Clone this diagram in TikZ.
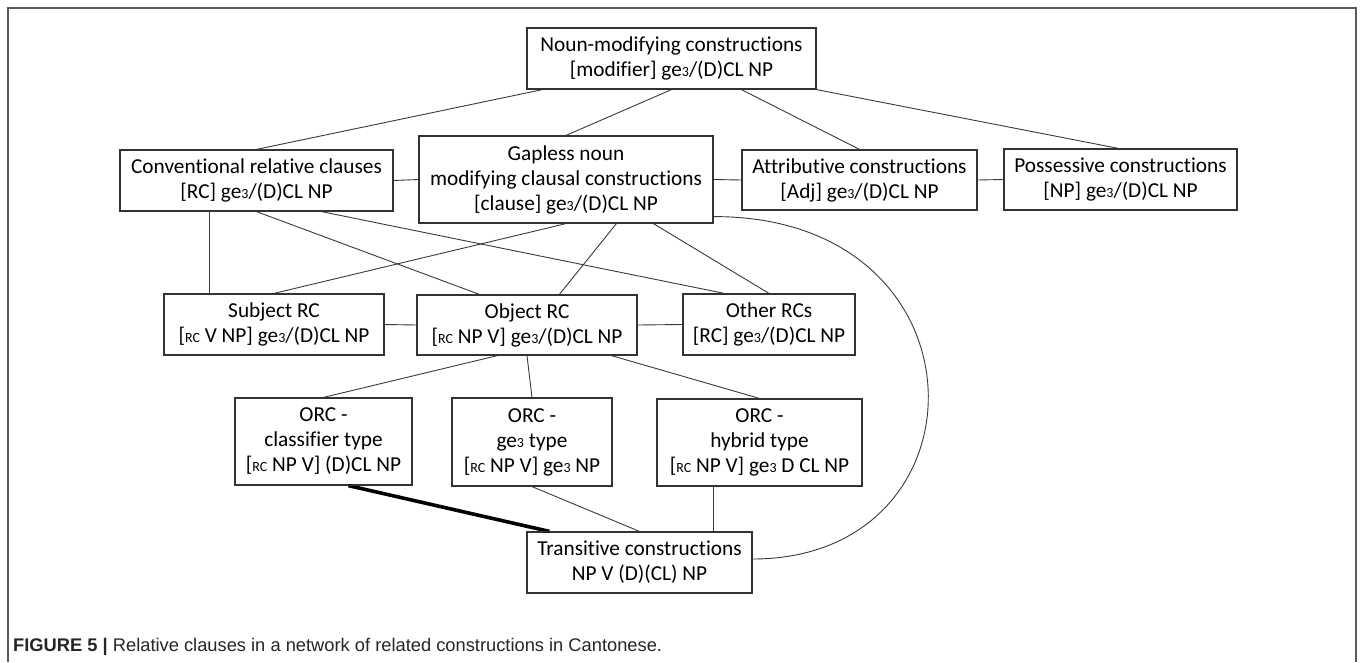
\documentclass[tikz,border=0pt]{standalone}
\usepackage{fontspec}
\setmainfont{Carlito}[Ligatures={NoCommon}]
\newfontfamily\capfont{Liberation Sans}
\usetikzlibrary{calc}
\newcommand{\myge}{ge{\fontsize{14}{14}\selectfont 3}}
\newcommand{\myrc}{{\fontsize{14}{14}\selectfont RC}}
\definecolor{boxc}{HTML}{333333}
\definecolor{linec}{HTML}{3A3A3A}
\definecolor{framec}{HTML}{5A5A5A}
\begin{document}
\begin{tikzpicture}[x=1pt,y=-1pt,
  box/.style={draw=boxc, line width=1.2pt, inner sep=0pt, align=center,
    font=\fontsize{21.3}{25}\selectfont, fill=white},
  link/.style={draw=linec, line width=0.9pt},
  strong/.style={draw=black, line width=3.6pt},
  framel/.style={draw=framec, line width=2pt}]
\useasboundingbox (0,0) rectangle (1360,662);
\fill[white] (0,0) rectangle (1360,662);
\coordinate (f1) at (7.5,662);
\coordinate (f2) at (7.5,8);
\coordinate (f3) at (1356,8);
\coordinate (f4) at (1356,662);
\draw[framel] (f1) -- (f2) -- (f3) -- (f4);

% nodes
\node[box, minimum width=289pt, minimum height=61pt] (top) at (671.5,58.5)
  {Noun-modifying constructions\\ {[}modifier] \myge/(D)CL NP};
\node[box, minimum width=273pt, minimum height=61pt] (conv) at (256.5,180.5)
  {Conventional relative clauses\\ {[}RC] \myge/(D)CL NP};
\node[box, minimum width=294pt, minimum height=87pt] (gap) at (566,179.5)
  {Gapless noun\\ modifying clausal constructions\\ {[}clause] \myge/(D)CL NP};
\node[box, minimum width=235pt, minimum height=60pt] (attr) at (859.5,180)
  {Attributive constructions\\ {[}Adj] \myge/(D)CL NP};
\node[box, minimum width=233pt, minimum height=61pt] (poss) at (1120.5,179.5)
  {Possessive constructions\\ {[}NP] \myge/(D)CL NP};
\node[box, minimum width=220pt, minimum height=61pt] (subj) at (274,324.5)
  {Subject RC\\ {[}\myrc{} V NP] \myge/(D)CL NP};
\node[box, minimum width=220pt, minimum height=60pt] (obj) at (527,325)
  {Object RC\\ {[}\myrc{} NP V] \myge/(D)CL NP};
\node[box, minimum width=172pt, minimum height=61pt] (other) at (769,324.5)
  {Other RCs\\ {[}RC] \myge/(D)CL NP};
\node[box, minimum width=177pt, minimum height=87pt] (cls) at (323.5,441.5)
  {ORC -\\ classifier type\\ {[}\myrc{} NP V] (D)CL NP};
\node[box, minimum width=160pt, minimum height=88pt] (get) at (532,442)
  {ORC -\\ \myge{} type\\ {[}\myrc{} NP V] \myge{} NP};
\node[box, minimum width=205pt, minimum height=87pt] (hyb) at (759.5,442.5)
  {ORC -\\ hybrid type\\ {[}\myrc{} NP V] \myge{} D CL NP};
\node[box, minimum width=225pt, minimum height=61pt] (trans) at (639.5,562.5)
  {Transitive constructions\\ NP V (D)(CL) NP};

% connectors
\draw[link] ([xshift=16pt]top.south west) -- (conv.north);
\draw[link] (top.south) -- (gap.north);
\draw[link] ([xshift=215pt]top.south west) -- (attr.north);
\draw[link] (top.south east) -- ([xshift=-2pt]poss.north);
\draw[link] (conv.east) -- (gap.west);
\draw[link] (gap.east) -- (attr.west);
\draw[link] (attr.east) -- (poss.west);
\draw[link] ([xshift=90pt]conv.south west) -- ([xshift=90pt]conv.south west |- subj.north);
\draw[link] (conv.south) -- ([xshift=63pt]obj.north west);
\draw[link] ([xshift=202pt]conv.south west) -- ([xshift=42pt]other.north west);
\draw[link] (gap.south) -- (subj.north);
\draw[link] ([xshift=198pt]gap.south west) -- ([xshift=143pt]obj.north west);
\draw[link] ([xshift=235pt]gap.south west) -- (other.north);
\draw[link] (subj.east) -- (obj.west);
\draw[link] (obj.east) -- (other.west);
\draw[link] ([xshift=81pt]obj.south west) -- (cls.north);
\draw[link] (obj.south) -- (get.north);
\draw[link] ([xshift=195pt]obj.south west) -- (hyb.north);
\draw[strong] ([xshift=114pt]cls.south west) -- ([xshift=23pt]trans.north west);
\draw[link] (get.south) -- (trans.north);
\draw[link] ([xshift=57pt]hyb.south west) -- ([xshift=57pt]hyb.south west |- trans.north);
\draw[link] ([yshift=7pt]gap.south east) .. controls (993,216) and (993,559) .. ([yshift=3.5pt]trans.east);

% redraw box borders over line ends
\foreach \n in {top,conv,gap,attr,poss,subj,obj,other,cls,get,hyb,trans}{
  \draw[draw=boxc, line width=1.2pt] (\n.south west) rectangle (\n.north east);
}

\node[anchor=base west, inner sep=0pt, font=\capfont\fontsize{18.3}{18.3}\selectfont, text=black!85] (cap) at (13,651)
  {\textbf{FIGURE 5 |} Relative clauses in a network of related constructions in Cantonese.};
\end{tikzpicture}
\end{document}
